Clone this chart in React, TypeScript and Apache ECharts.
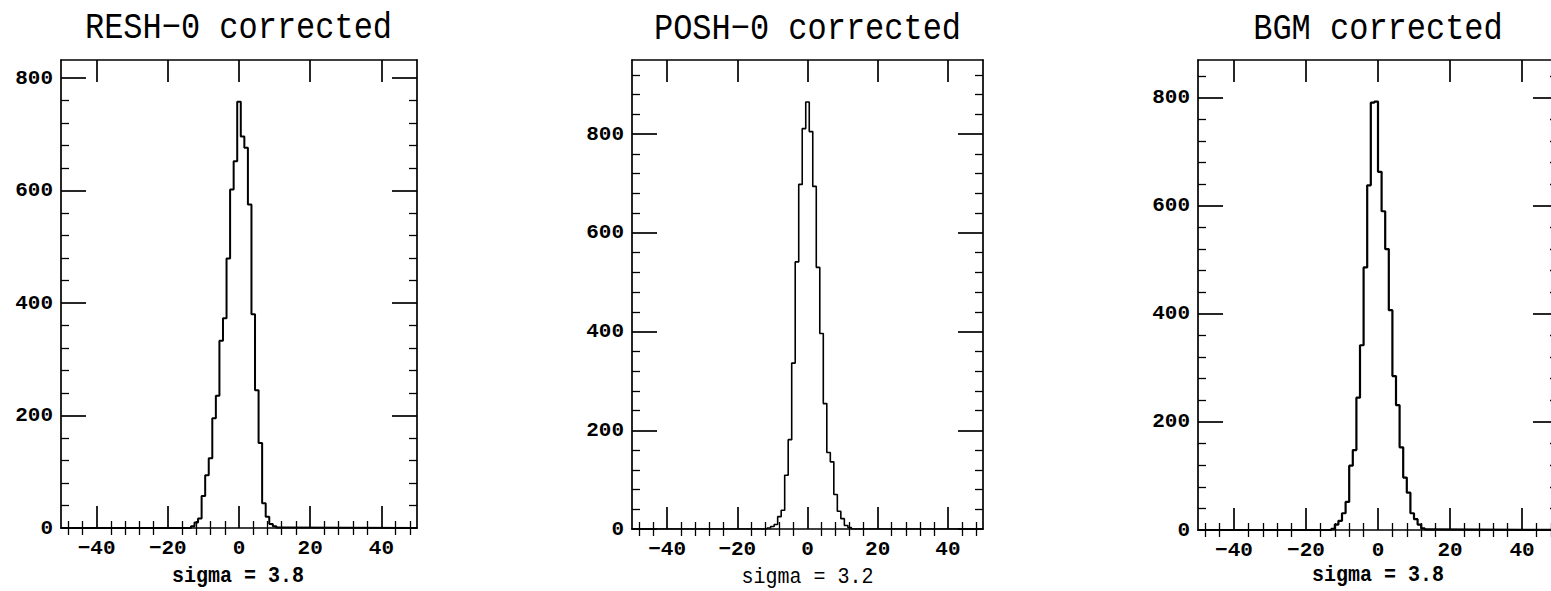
import React, { useEffect, useRef } from 'react';
import * as echarts from 'echarts';

const panelTitles = ['RESH\u22120 corrected', 'POSH\u22120 corrected', 'BGM corrected'];
const sigmaLabels = ['sigma = 3.8', 'sigma = 3.2', 'sigma = 3.8'];
const xTickLabels = [-40, -20, 0, 20, 40];
const xMinorTicks = [-48, -44, -36, -32, -28, -24, -16, -12, -8, -4, 4, 8, 12, 16, 24, 28, 32, 36, 44, 48];
const yTickLabels = [0, 200, 400, 600, 800];
const yMinorTicks = [40, 80, 120, 160, 240, 280, 320, 360, 440, 480, 520, 560, 640, 680, 720, 760, 840, 880, 920];
const yMaxes = [832, 950, 870];
const binWidth = 1;

const reshStart = -13.5;
const reshCounts = [3, 10, 17, 57, 94, 124, 195, 235, 333, 373, 479, 602, 652, 758, 696, 676, 575, 380, 245, 151, 44, 20, 7, 3, 1];
const poshStart = -11.5;
const poshCounts = [2, 5, 9, 25, 38, 109, 181, 336, 541, 698, 811, 865, 805, 694, 530, 396, 254, 155, 136, 70, 36, 21, 7, 3];
const bgmStart = -13;
const bgmCounts = [2, 10, 17, 31, 52, 119, 148, 245, 342, 486, 638, 791, 793, 663, 590, 520, 407, 285, 231, 153, 97, 69, 31, 20, 10, 3, 1];

const starts = [reshStart, poshStart, bgmStart];
const counts = [reshCounts, poshCounts, bgmCounts];

// layout (pixels)
const grids = [
  { left: 61, top: 60, width: 356, height: 468 },
  { left: 632, top: 60, width: 351, height: 469 },
  { left: 1198, top: 60, width: 360, height: 470 },
];
const titlePos = [
  { x: 238.5, y: 27.5 },
  { x: 807.5, y: 28.5 },
  { x: 1378, y: 28.5 },
];
const subPos = [
  { x: 238, y: 576 },
  { x: 807.5, y: 577 },
  { x: 1378, y: 575 },
];
const lineWidths = [2, 1.6, 2.2];
const subWeights = ['bold', 'normal', 'bold'];

const fmt = (v: number) => (v < 0 ? '\u2212' + String(-v) : String(v));
const labelFont = { fontFamily: 'Liberation Mono', fontSize: 21, fontWeight: 'bold' as const, color: '#000' };

function histPoints(start: number, c: number[]) {
  const pts: number[][] = [[-50, 0]];
  c.forEach((v, i) => pts.push([start + i * binWidth, v]));
  pts.push([start + c.length * binWidth, 0]);
  pts.push([50, 0]);
  return pts;
}

export default function App() {
  const ref = useRef<HTMLDivElement>(null);
  useEffect(() => {
    if (!ref.current) return;
    const chart = echarts.init(ref.current, null, { renderer: 'svg' });
    const xAxis: any[] = [];
    const yAxis: any[] = [];
    const series: any[] = [];
    const graphic: any[] = [];
    grids.forEach((g, p) => {
      const ymax = yMaxes[p];
      const yMinor = yMinorTicks.filter((v) => v < ymax);
      const xb = { type: 'value', gridIndex: p, min: -50, max: 50, splitLine: { show: false }, minorTick: { show: false } };
      const lineStyle = { color: '#000', width: 1.7 };
      ['bottom', 'top'].forEach((pos) => {
        xAxis.push({
          ...xb,
          position: pos,
          axisLine: { show: true, onZero: false, lineStyle },
          axisTick: { show: true, inside: true, length: 22, customValues: xTickLabels, lineStyle },
          axisLabel: pos === 'bottom'
            ? { show: true, customValues: xTickLabels, formatter: fmt, margin: 10, ...labelFont }
            : { show: false },
        });
        xAxis.push({
          ...xb,
          position: pos,
          axisLine: { show: false },
          axisTick: { show: true, inside: true, length: 7, customValues: xMinorTicks, lineStyle: { color: '#000', width: 1.3 } },
          axisLabel: { show: false },
        });
      });
      const yb = { type: 'value', gridIndex: p, min: 0, max: ymax, splitLine: { show: false }, minorTick: { show: false } };
      ['left', 'right'].forEach((pos) => {
        yAxis.push({
          ...yb,
          position: pos,
          axisLine: { show: true, onZero: false, lineStyle },
          axisTick: { show: true, inside: true, length: 25, customValues: yTickLabels, lineStyle },
          axisLabel: pos === 'left'
            ? { show: true, customValues: yTickLabels, formatter: fmt, margin: 8, ...labelFont }
            : { show: false },
        });
        yAxis.push({
          ...yb,
          position: pos,
          axisLine: { show: false, onZero: false },
          axisTick: { show: true, inside: true, length: 8, customValues: yMinor, lineStyle: { color: '#000', width: 1.3 } },
          axisLabel: { show: false },
        });
      });
      series.push({
        type: 'line',
        xAxisIndex: p * 4,
        yAxisIndex: p * 4,
        step: 'end',
        showSymbol: false,
        symbol: 'none',
        silent: true,
        lineStyle: { color: '#000', width: lineWidths[p] },
        data: histPoints(starts[p], counts[p]),
      });
      graphic.push({
        type: 'text',
        x: titlePos[p].x,
        y: titlePos[p].y,
        scaleY: 1.15,
        style: {
          text: panelTitles[p],
          font: 'normal 32px "Liberation Mono"',
          fill: '#000',
          textAlign: 'center',
          textVerticalAlign: 'middle',
        },
      });
      graphic.push({
        type: 'text',
        x: subPos[p].x,
        y: subPos[p].y,
        scaleY: 1.12,
        style: {
          text: sigmaLabels[p],
          font: subWeights[p] + ' 20px "Liberation Mono"',
          fill: '#000',
          textAlign: 'center',
          textVerticalAlign: 'middle',
        },
      });
    });
    chart.setOption({
      animation: false,
      backgroundColor: '#fff',
      grid: grids.map((g) => ({ ...g, containLabel: false })),
      xAxis,
      yAxis,
      series,
      graphic,
    });
    return () => chart.dispose();
  }, []);
  return (
    <div style={{ position: 'fixed', left: 0, top: 0, width: 1551, height: 591, overflow: 'hidden', background: '#fff' }}>
      <div ref={ref} style={{ width: 1570, height: 591 }} />
    </div>
  );
}
